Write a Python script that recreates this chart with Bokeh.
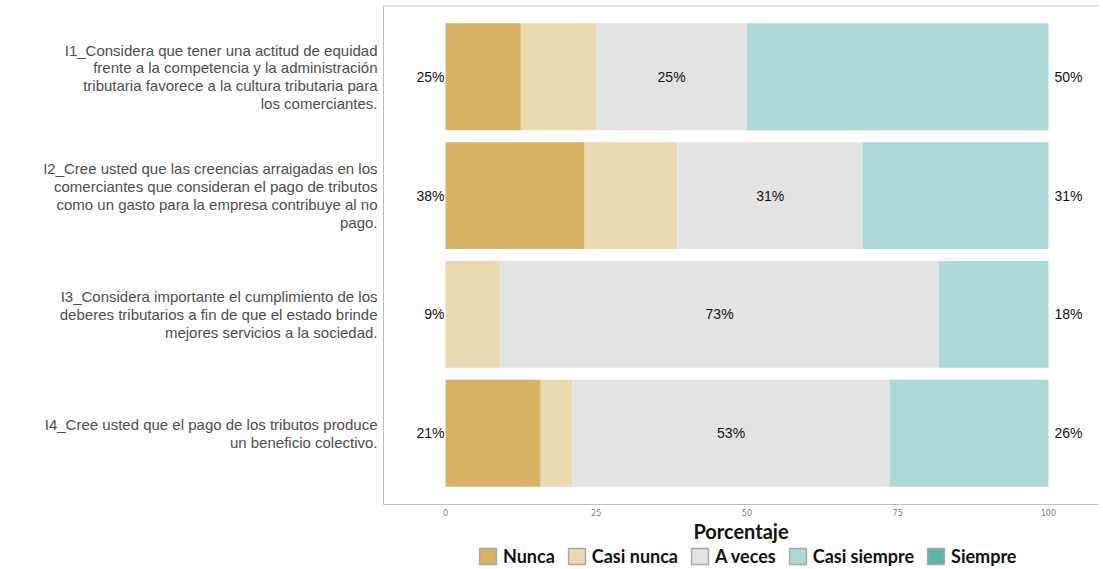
from bokeh.plotting import figure
from bokeh.layouts import column
from bokeh.models import (Range1d, Span, Legend, LegendItem,
                          ColumnDataSource, FixedTicker)
from bokeh.core.properties import value
from bokeh.embed import file_html
from bokeh.resources import INLINE

items = ["I1", "I2", "I3", "I4"]
item_labels = [
    "I1_Considera que tener una actitud de equidad\nfrente a la competencia y la administración\ntributaria favorece a la cultura tributaria para\nlos comerciantes.",
    "I2_Cree usted que las creencias arraigadas en los\ncomerciantes que consideran el pago de tributos\ncomo un gasto para la empresa contribuye al no\npago.",
    "I3_Considera importante el cumplimiento de los\ndeberes tributarios a fin de que el estado brinde\nmejores servicios a la sociedad.",
    "I4_Cree usted que el pago de los tributos produce\nun beneficio colectivo.",
]
levels = ["Nunca", "Casi nunca", "A veces", "Casi siempre", "Siempre"]
nunca = [12.5, 23.08, 0.0, 15.79]
casi_nunca = [12.5, 15.38, 9.09, 5.26]
a_veces = [25.0, 30.77, 72.73, 52.63]
casi_siempre = [50.0, 30.77, 18.18, 26.32]
siempre = [0.0, 0.0, 0.0, 0.0]
x_ticks = [0, 25, 50, 75, 100]

colors = ["#D8B365", "#EAD9B0", "#E3E3E3", "#ADD9D6", "#5AB4AC"]

n = len(items)
ypos = [n - i for i in range(n)]  # first item on top

data = {"y": ypos, "Nunca": nunca, "Casi nunca": casi_nunca, "A veces": a_veces,
        "Casi siempre": casi_siempre, "Siempre": siempre}
source = ColumnDataSource(data)

low = [a + b for a, b in zip(nunca, casi_nunca)]
high = [a + b for a, b in zip(casi_siempre, siempre)]
total = [l + m + h for l, m, h in zip(low, a_veces, high)]
mid_x = [l + m / 2 for l, m in zip(low, a_veces)]
lab_src = ColumnDataSource(dict(
    y=ypos,
    zero=[0.0] * n,
    total=total,
    mid=mid_x,
    low_t=[f"{round(v)}%" for v in low],
    mid_t=[f"{round(v)}%" for v in a_veces],
    high_t=[f"{round(v)}%" for v in high],
))

y_range = Range1d(0.4, n + 0.6)

p = figure(frame_width=715, frame_height=499, y_range=y_range, x_range=Range1d(-10.28, 108.3),
           output_backend="svg", toolbar_location=None,
           min_border_left=383, min_border_right=0, min_border_top=5, min_border_bottom=0)

p.hbar_stack(levels, y="y", height=0.9, color=colors, source=source, line_color=None)

txt = dict(text_font=value("Liberation Sans"), text_font_size="14px", text_color="#111111",
           text_baseline="middle", source=lab_src)
p.text(x="zero", y="y", text="low_t", text_align="right", x_offset=-1, **txt)
p.text(x="mid", y="y", text="mid_t", text_align="center", **txt)
p.text(x="total", y="y", text="high_t", text_align="left", x_offset=6, **txt)

p.grid.grid_line_color = None
p.outline_line_color = None

p.xaxis.ticker = FixedTicker(ticks=x_ticks)
p.xaxis.major_tick_line_color = None
p.xaxis.minor_tick_line_color = None
p.xaxis.major_tick_out = 0
p.xaxis.axis_line_color = "#bdbdbd"
p.xaxis.major_label_text_font = "DejaVu Sans Condensed"
p.xaxis.major_label_text_font_size = "9px"
p.xaxis.major_label_text_color = "#808080"
p.xaxis.major_label_standoff = 4
p.xaxis.axis_label = "Porcentaje"
p.xaxis.axis_label_text_font = "Lato"
p.xaxis.axis_label_text_font_style = "bold"
p.xaxis.axis_label_text_font_size = "20px"
p.xaxis.axis_label_text_color = "#111111"
p.xaxis.axis_label_standoff = 0
p.xaxis.axis_label_text_line_height = 1.0

p.yaxis.ticker = FixedTicker(ticks=ypos)
p.yaxis.major_label_overrides = dict(zip(ypos, item_labels))
p.yaxis.major_tick_line_color = None
p.yaxis.minor_tick_line_color = None
p.yaxis.major_tick_out = 0
p.yaxis.axis_line_color = "#bdbdbd"
p.yaxis.major_label_text_font = "Liberation Sans"
p.yaxis.major_label_text_font_size = "15px"
p.yaxis.major_label_text_line_height = 1.05
p.yaxis.major_label_text_color = "#4d4d4d"
p.yaxis.major_label_standoff = 6

p.add_layout(Span(location=y_range.end, dimension="width",
                  line_color="#bdbdbd", line_width=1.5))

# legend strip as a separate small figure (legend swatches only)
lf = figure(frame_width=715, frame_height=22, x_range=Range1d(0, 1), y_range=Range1d(0, 1),
            output_backend="svg", toolbar_location=None,
            x_axis_location=None, y_axis_location=None,
            min_border_left=383, min_border_right=0, min_border_top=0, min_border_bottom=0)
lf.grid.grid_line_color = None
lf.outline_line_color = None
leg_items = []
for lev, c in zip(levels, colors):
    r = lf.hbar(y=[0.5], left=[0], right=[0], height=0.5, fill_color=c,
                line_color="#a8a8a8", line_width=1.5, visible=False)
    leg_items.append(LegendItem(label=lev, renderers=[r]))
legend = Legend(items=leg_items, orientation="horizontal", location=(94, 0),
                glyph_width=21, glyph_height=20, label_standoff=5, spacing=11,
                padding=0, margin=0, border_line_color=None, background_fill_alpha=0,
                label_text_font="Lato", label_text_font_style="bold",
                label_text_font_size="18px", label_text_color="#111111",
                label_height=20, inactive_fill_alpha=0)
lf.add_layout(legend)

open("out.html", "w").write(file_html(column(p, lf), INLINE))
